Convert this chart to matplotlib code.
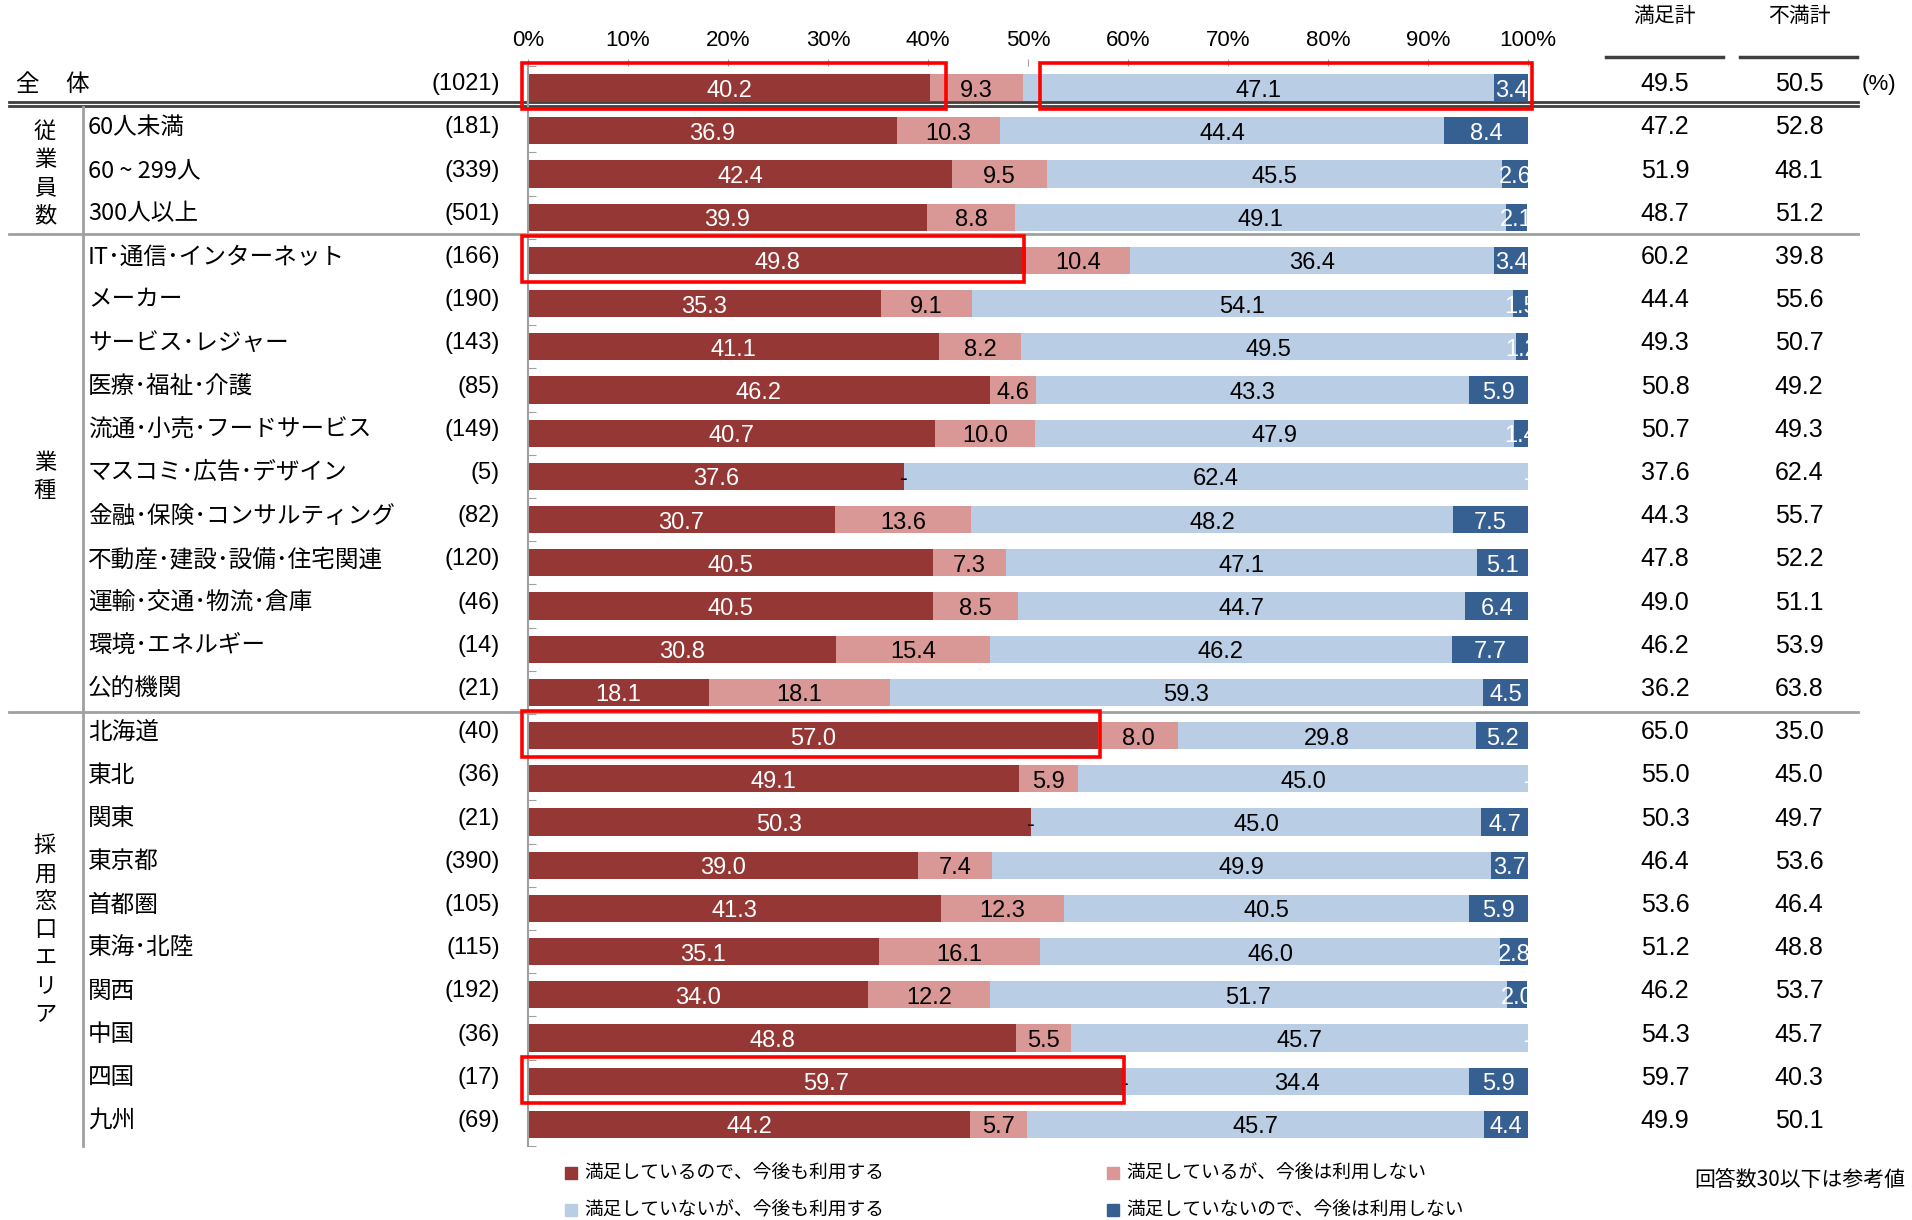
import numpy as np
import matplotlib
matplotlib.use("Agg")
import matplotlib.pyplot as plt
import matplotlib.transforms as mtrans
from matplotlib import font_manager
from matplotlib.patches import Rectangle

# ---- data ----
categories = ["全　体", "60人未満", "60 ~ 299人", "300人以上",
              "IT･通信･インターネット", "メーカー", "サービス･レジャー", "医療･福祉･介護",
              "流通･小売･フードサービス", "マスコミ･広告･デザイン", "金融･保険･コンサルティング",
              "不動産･建設･設備･住宅関連", "運輸･交通･物流･倉庫", "環境･エネルギー", "公的機関",
              "北海道", "東北", "関東", "東京都", "首都圏", "東海･北陸", "関西", "中国", "四国", "九州"]
counts = [1021, 181, 339, 501, 166, 190, 143, 85, 149, 5, 82, 120, 46, 14, 21,
          40, 36, 21, 390, 105, 115, 192, 36, 17, 69]

sat_use = [40.2, 36.9, 42.4, 39.9, 49.8, 35.3, 41.1, 46.2, 40.7, 37.6, 30.7, 40.5, 40.5, 30.8, 18.1,
           57.0, 49.1, 50.3, 39.0, 41.3, 35.1, 34.0, 48.8, 59.7, 44.2]
sat_nouse = [9.3, 10.3, 9.5, 8.8, 10.4, 9.1, 8.2, 4.6, 10.0, 0.0, 13.6, 7.3, 8.5, 15.4, 18.1,
             8.0, 5.9, 0.0, 7.4, 12.3, 16.1, 12.2, 5.5, 0.0, 5.7]
unsat_use = [47.1, 44.4, 45.5, 49.1, 36.4, 54.1, 49.5, 43.3, 47.9, 62.4, 48.2, 47.1, 44.7, 46.2, 59.3,
             29.8, 45.0, 45.0, 49.9, 40.5, 46.0, 51.7, 45.7, 34.4, 45.7]
unsat_nouse = [3.4, 8.4, 2.6, 2.1, 3.4, 1.5, 1.2, 5.9, 1.4, 0.0, 7.5, 5.1, 6.4, 7.7, 4.5,
               5.2, 0.0, 4.7, 3.7, 5.9, 2.8, 2.0, 0.0, 5.9, 4.4]

manzoku = [49.5, 47.2, 51.9, 48.7, 60.2, 44.4, 49.3, 50.8, 50.7, 37.6, 44.3, 47.8, 49.0, 46.2, 36.2,
           65.0, 55.0, 50.3, 46.4, 53.6, 51.2, 46.2, 54.3, 59.7, 49.9]
fuman = [50.5, 52.8, 48.1, 51.2, 39.8, 55.6, 50.7, 49.2, 49.3, 62.4, 55.7, 52.2, 51.1, 53.9, 63.8,
         35.0, 45.0, 49.7, 53.6, 46.4, 48.8, 53.7, 45.7, 40.3, 50.1]

series_names = ["満足しているので、今後も利用する", "満足しているが、今後は利用しない",
                "満足していないが、今後も利用する", "満足していないので、今後は利用しない"]
series_colors = ["#953735", "#D99795", "#B9CDE5", "#376092"]
label_colors = ["white", "black", "black", "white"]

groups = [("従業員数", 1, 3), ("業種", 4, 14), ("採用窓口エリア", 15, 24)]
highlight = [(0, -0.6, 41.8), (0, 51.2, 100.4), (4, -0.6, 49.6), (15, -0.6, 57.2), (23, -0.6, 59.6)]

# ---- fonts ----
def has_font(name):
    try:
        font_manager.findfont(name, fallback_to_default=False)
        return True
    except Exception:
        return False

JP = ["Noto Sans CJK JP", "DejaVu Sans"]
NARROW = "Liberation Sans Narrow" if has_font("Liberation Sans Narrow") else "Liberation Sans"
plt.rcParams["font.family"] = JP

W, H = 1912, 1220
fig = plt.figure(figsize=(W / 100, H / 100), dpi=100)

def fx(px):
    return px / W

def fy(py):
    return 1 - py / H

ax = fig.add_axes([fx(528), fy(1146), fx(1528) - fx(528), fy(66) - fy(1146)])
n = len(categories)
y = np.arange(n)
data = [sat_use, sat_nouse, unsat_use, unsat_nouse]

left = np.zeros(n)
for k, vals in enumerate(data):
    vals = np.array(vals)
    ax.barh(y, vals, left=left, height=0.63, color=series_colors[k], edgecolor="none")
    for i in range(n):
        c = left[i] + vals[i] / 2
        txt = "%.1f" % vals[i] if vals[i] > 0 else "-"
        ax.text(c, y[i] + 0.07, txt, ha="center", va="center", color=label_colors[k],
                fontsize=17, family=NARROW)
    left = left + vals

ax.set_xlim(0, 100)
ax.set_ylim(n - 0.5, -0.5)
ax.xaxis.tick_top()
ax.set_xticks(np.arange(0, 101, 10))
ax.set_xticklabels(["%d%%" % v for v in range(0, 101, 10)], family=NARROW, fontsize=16)
ax.tick_params(axis="x", direction="out", length=5, color="#A0A0A0", pad=6)
ax.set_yticks(np.arange(-0.5, n, 1))
ax.set_yticklabels([])
ax.tick_params(axis="y", direction="in", length=6, color="#A0A0A0")
for s in ["top", "right", "bottom"]:
    ax.spines[s].set_visible(False)
ax.spines["left"].set_color("#A0A0A0")
ax.spines["left"].set_linewidth(1.5)

# highlight boxes
for row, x0, x1 in highlight:
    ax.add_patch(Rectangle((x0, row - 0.57), x1 - x0, 1.07, fill=False, edgecolor="#FF0000",
                           linewidth=2.6, clip_on=False, zorder=5))

tr = mtrans.blended_transform_factory(fig.transFigure, ax.transData)

# row labels, counts and totals
for i in range(n):
    yy = y[i] - 0.08
    if i == 0:
        ax.text(fx(15), yy, "全", transform=tr, ha="left", va="center", fontsize=17)
        ax.text(fx(65), yy, "体", transform=tr, ha="left", va="center", fontsize=17)
    else:
        ax.text(fx(88), yy, categories[i], transform=tr, ha="left", va="center", fontsize=17)
    ax.text(fx(500), yy, "(%d)" % counts[i], transform=tr, ha="right", va="center",
            fontsize=17, family="Liberation Sans")
    ax.text(fx(1665), yy, "%.1f" % manzoku[i], transform=tr, ha="center", va="center",
            fontsize=18, family="Liberation Sans")
    ax.text(fx(1799), yy, "%.1f" % fuman[i], transform=tr, ha="center", va="center",
            fontsize=18, family="Liberation Sans")
ax.text(fx(1862), -0.08, "(%)", transform=tr, ha="left", va="center", fontsize=16,
        family="Liberation Sans")

# vertical group labels
for name, r0, r1 in groups:
    mid = (r0 + r1) / 2
    step = 0.65
    start = mid - step * (len(name) - 1) / 2
    for j, ch in enumerate(name):
        ax.text(fx(45), start + j * step, ch, transform=tr, ha="center", va="center", fontsize=16)

# separators
line_kw = dict(transform=tr, clip_on=False)
ax.plot([fx(9), fx(1858)], [0.34, 0.34], color="#404040", lw=2, **line_kw)
ax.plot([fx(9), fx(1858)], [0.43, 0.43], color="#404040", lw=2, **line_kw)
for ys in [3.38, 14.45]:
    ax.plot([fx(9), fx(1858)], [ys, ys], color="#A0A0A0", lw=2, **line_kw)
ax.plot([fx(83), fx(83)], [0.45, n - 0.5], color="#A0A0A0", lw=2, **line_kw)

# right column headers
fig.text(fx(1665), fy(16), "満足計", ha="center", va="center", fontsize=15)
fig.text(fx(1799), fy(16), "不満計", ha="center", va="center", fontsize=15)
fig.add_artist(plt.Line2D([fx(1606), fx(1723)], [fy(57), fy(57)], color="#404040", lw=2.5))
fig.add_artist(plt.Line2D([fx(1740), fx(1857)], [fy(57), fy(57)], color="#404040", lw=2.5))

# legend
leg_pos = [(565, 1173), (1107, 1173), (565, 1210), (1107, 1210)]
for (lx, ly), name, col in zip(leg_pos, series_names, series_colors):
    fig.patches.append(Rectangle((fx(lx), fy(ly + 6)), fx(12), 12 / H, color=col,
                                 transform=fig.transFigure, figure=fig))
    fig.text(fx(lx + 19), fy(ly), name, ha="left", va="center", fontsize=13.5)
fig.text(fx(1905), fy(1180), "回答数30以下は参考値", ha="right", va="center", fontsize=15)

fig.savefig("out.png", dpi=100)
